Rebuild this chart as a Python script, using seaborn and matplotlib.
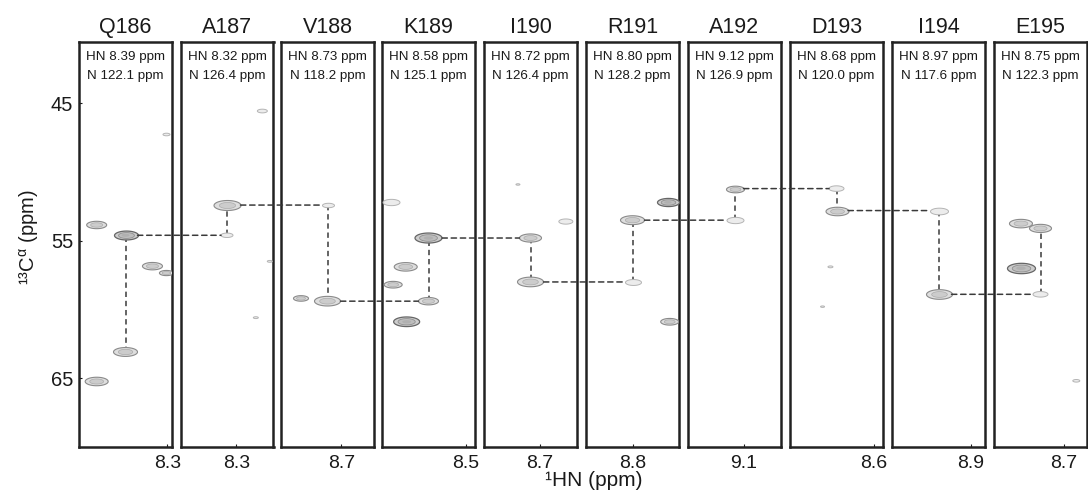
import numpy as np
import pandas as pd
import matplotlib
matplotlib.use("Agg")
import matplotlib.pyplot as plt
import seaborn as sns
from matplotlib.path import Path
from matplotlib.patches import ConnectionPatch

# ---------------- data ----------------
residues = ["Q186", "A187", "V188", "K189", "I190", "R191", "A192", "D193", "I194", "E195"]
hn_ppm = [8.39, 8.32, 8.73, 8.58, 8.72, 8.80, 9.12, 8.68, 8.97, 8.75]
n_ppm = [122.1, 126.4, 118.2, 125.1, 126.4, 128.2, 126.9, 120.0, 117.6, 122.3]
hn_ticks = [8.3, 8.3, 8.7, 8.5, 8.7, 8.8, 9.1, 8.6, 8.9, 8.7]
ca_ticks = [45, 55, 65]

# sequential walk: Calpha(i) and Calpha(i-1) in each strip
ca_own = [54.6, 52.4, 59.4, 54.8, 58.0, 53.5, 51.2, 52.8, 58.9, 54.1]
ca_prev = [63.1, 54.6, 52.4, 59.4, 54.8, 58.0, 53.5, 51.2, 52.8, 58.9]
own_width = [24, 27, 26, 27, 26, 24, 18, 23, 26, 22]
prev_width = [24, 12, 12, 20, 22, 16, 17, 15, 18, 15]
own_tone = ["strong", "medium", "medium", "strong", "medium", "medium", "medium", "medium", "medium", "medium"]
prev_tone = ["medium", "weak", "weak", "medium", "medium", "weak", "weak", "weak", "weak", "weak"]

# other (unassigned) peaks in the strips
extra_panel = [0, 0, 0, 0, 0, 1, 1, 1, 2, 3, 3, 3, 3, 4, 4, 5, 5, 7, 7, 9, 9, 9]
extra_hn = [8.452, 8.332, 8.302, 8.452, 8.302, 8.244, 8.228, 8.258, 8.787, 8.660, 8.629, 8.656, 8.627,
            8.644, 8.747, 8.724, 8.720, 8.693, 8.710, 8.792, 8.792, 8.673]
extra_ca = [53.85, 56.85, 57.35, 65.25, 47.2, 45.55, 56.5, 60.6, 59.2, 52.15, 56.9, 58.2, 60.9,
            53.6, 50.9, 52.2, 60.9, 56.9, 59.8, 53.75, 57.0, 65.2]
extra_width = [20, 20, 14, 23, 7, 10, 5, 5, 15, 17, 23, 18, 26, 14, 4, 22, 18, 5, 4, 23, 28, 7]
extra_tone = ["medium", "medium", "medium", "medium", "weak", "weak", "weak", "weak", "medium",
              "weak", "medium", "medium", "strong", "weak", "weak", "strong", "medium",
              "weak", "weak", "medium", "strong", "weak"]

# ---------------- style ----------------
sns.set_theme(style="white")
plt.rcParams["font.family"] = ["Liberation Sans", "DejaVu Sans"]
plt.rcParams["mathtext.fontset"] = "custom"
plt.rcParams["mathtext.rm"] = "Liberation Sans"
plt.rcParams["mathtext.it"] = "Liberation Sans"
plt.rcParams["text.color"] = "#1a1a1a"

PX = 0.72  # points per pixel at dpi 100
t = np.linspace(0, 2 * np.pi, 64)
ellipse = Path(np.column_stack([np.cos(t), 0.37 * np.sin(t)]), closed=True)

rows = []
for i in range(len(residues)):
    rows.append((i, hn_ppm[i], ca_own[i], own_width[i], own_tone[i]))
    rows.append((i, hn_ppm[i], ca_prev[i], prev_width[i], prev_tone[i]))
for p, h, c, w, tn in zip(extra_panel, extra_hn, extra_ca, extra_width, extra_tone):
    rows.append((p, h, c, w, tn))
peaks = pd.DataFrame(rows, columns=["panel", "hn", "ca", "width", "tone"])

layers = {
    "strong": [(1.0, "#cdcdcd", "#666666", 0.9), (0.66, "#bdbdbd", "#909090", 0.6), (0.34, "#b0b0b0", "none", 0)],
    "medium": [(1.0, "#dedede", "#8a8a8a", 0.8), (0.6, "#cccccc", "#ababab", 0.5)],
    "weak": [(1.0, "#ececec", "#b4b4b4", 0.7)],
}

fig = plt.figure(figsize=(10.88, 4.97), dpi=100)
W, H = 1088.0, 497.0
lefts = [79, 180.5, 281, 382, 484, 586, 688, 790, 892, 994]
pw = 93.0
top, bot = 41.7, 446.7
half = 0.1

axes = []
for i, res in enumerate(residues):
    ax = fig.add_axes([lefts[i] / W, 1 - bot / H, pw / W, (bot - top) / H])
    ax.set_xlim(hn_ppm[i] + half, hn_ppm[i] - half)
    ax.set_ylim(70, 40.5)
    sub = peaks[peaks.panel == i].copy()
    for tone, lays in layers.items():
        s2 = sub[sub.tone == tone]
        if s2.empty:
            continue
        for k, (scale, face, edge, lw) in enumerate(lays):
            d = s2.copy()
            d["area"] = (d["width"] * PX * scale) ** 2
            sns.scatterplot(data=d, x="hn", y="ca", size="area", sizes=(0, 2000), size_norm=(0, 2000),
                            marker=ellipse, color=face, edgecolor=edge, linewidth=lw,
                            legend=False, ax=ax, zorder=3 + k)
    # vertical walk line inside the strip
    ax.plot([hn_ppm[i], hn_ppm[i]], [ca_prev[i], ca_own[i]], color="#3a3a3a", lw=1.1,
            ls=(0, (3.5, 2.5)), zorder=2)
    ax.set_title(res, fontsize=15.5, pad=6.5)
    ax.text(0.5, 0.9615, f"HN {hn_ppm[i]:.2f} ppm", transform=ax.transAxes, ha="center", va="center",
            fontsize=9.6)
    ax.text(0.5, 0.9153, f"N {n_ppm[i]:.1f} ppm", transform=ax.transAxes, ha="center", va="center",
            fontsize=9.6)
    ax.set_xticks([hn_ticks[i]])
    ax.set_xticklabels([f"{hn_ticks[i]:.1f}"])
    if i == 0:
        ax.set_yticks(ca_ticks)
        ax.set_yticklabels([str(v) for v in ca_ticks])
    else:
        ax.set_yticks([])
    ax.tick_params(axis="x", direction="in", length=2.5, width=0.8, labelsize=14, pad=6,
                   bottom=True, colors="#1a1a1a")
    ax.tick_params(axis="y", direction="in", length=2.5, width=0.8, labelsize=14.5, pad=4.3,
                   left=True, colors="#1a1a1a")
    ax.set_xlabel("")
    ax.set_ylabel("")
    for sp in ax.spines.values():
        sp.set_visible(True)
        sp.set_linewidth(1.8)
        sp.set_color("#222222")
    ax.set_facecolor("white")
    axes.append(ax)

# horizontal walk lines between strips
for i in range(1, len(residues)):
    con = ConnectionPatch(xyA=(hn_ppm[i - 1], ca_own[i - 1]), coordsA="data", axesA=axes[i - 1],
                          xyB=(hn_ppm[i], ca_prev[i]), coordsB="data", axesB=axes[i],
                          color="#3a3a3a", lw=1.1, linestyle=(0, (3.5, 2.5)),
                          shrinkA=own_width[i - 1] * PX / 2, shrinkB=prev_width[i] * PX / 2)
    fig.add_artist(con)

fig.text(29 / W, 1 - 237 / H, "¹³C$^{\\alpha}$ (ppm)", rotation=90, ha="center", va="center", fontsize=14.5)
fig.text(594 / W, 1 - 481 / H, "¹HN (ppm)", ha="center", va="center", fontsize=15)

fig.savefig("out.png", dpi=100, facecolor="white")
